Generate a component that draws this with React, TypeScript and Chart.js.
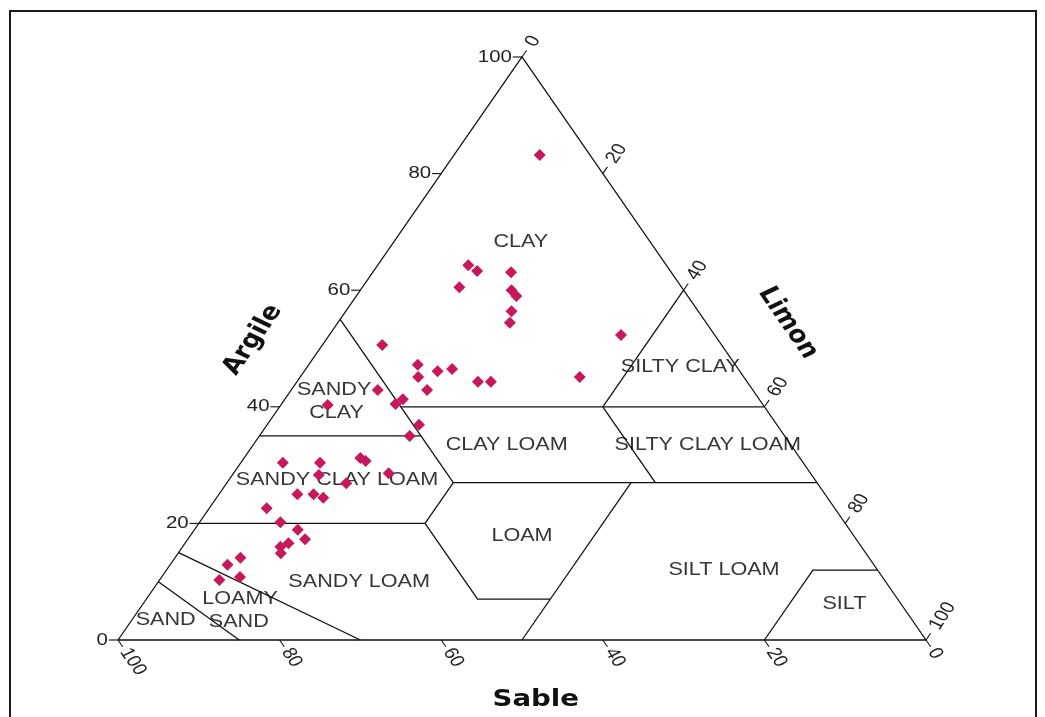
import React, { useEffect, useRef } from "react";
import { Chart, registerables } from "chart.js";

Chart.register(...registerables);

// ---- Sample data: sand % and clay % (silt = 100 - sand - clay) ----
const sampleSand = [
  6.2, 24.5, 23.9, 19.8, 27.5, 21.3, 21.2, 23.1, 24.3, 11.6, 20.3,
  42.0, 39.3, 40.3, 37.4, 35.4, 33.3, 31.7, 46.4, 40.3, 45.4, 44.1, 44.3, 46.4,
  53.9, 64.4, 59.8, 54.4, 54.0, 61.0, 58.3, 52.2, 65.3, 63.3, 62.4,
  70.3, 69.8, 68.3, 68.2, 70.6, 71.9, 72.4, 77.8, 80.0, 79.5, 82.3,
];
const sampleClay = [
  83.2, 64.3, 63.3, 63.1, 60.5, 60.0, 59.0, 56.4, 54.4, 52.3, 45.1,
  50.6, 47.2, 45.1, 46.1, 46.5, 44.3, 44.3, 42.9, 42.9, 40.5, 41.3, 36.9, 35.0,
  40.3, 30.4, 30.4, 31.2, 30.7, 28.3, 26.9, 28.6, 25.0, 25.0, 24.4,
  22.6, 20.2, 18.9, 17.3, 16.6, 16.0, 14.9, 14.1, 12.9, 10.8, 10.3,
];

// ---- USDA texture class boundaries as [sand, clay] polylines ----
const outline = [[100, 0], [0, 100], [0, 0], [100, 0]];
const sandyClayEast = [[45, 55], [45, 27]];
const clayFloor = [[45, 40], [0, 40]];
const siltyClayWest = [[0, 60], [20, 40]];
const siltyClayLoamWest = [[20, 40], [20, 27]];
const clayLoamFloor = [[45, 27], [0, 27]];
const sandyClayFloor = [[65, 35], [45, 35]];
const sandyClayLoamFloor = [[80, 20], [52, 20], [45, 27]];
const loamWest = [[52, 20], [52, 7], [43, 7]];
const siltLoamWest = [[23, 27], [50, 0]];
const loamySandEast = [[85, 15], [70, 0]];
const sandEast = [[90, 10], [85, 0]];
const siltWest = [[20, 0], [8, 12], [0, 12]];
const boundaries = [
  outline, sandyClayEast, clayFloor, siltyClayWest, siltyClayLoamWest,
  clayLoamFloor, sandyClayFloor, sandyClayLoamFloor, loamWest, siltLoamWest,
  loamySandEast, sandEast, siltWest,
];

// ---- Class labels: text with anchor [sand, clay] ----
const classNames = [
  "CLAY", "SILTY CLAY", "SANDY", "CLAY", "CLAY LOAM", "SILTY CLAY LOAM",
  "SANDY CLAY LOAM", "LOAM", "SANDY LOAM", "SILT LOAM", "SILT", "LOAMY", "SAND", "SAND",
];
const classAnchors = [
  [16.0, 68.3], [7.0, 46.8], [51.8, 42.9], [53.5, 38.9], [35.2, 33.4], [10.3, 33.4],
  [59.2, 27.4], [41.1, 17.8], [65.2, 9.9], [19.0, 12.0], [7.0, 6.2], [81.4, 7.0], [83.5, 3.1], [92.4, 3.4],
];

// ---- Axis ticks ----
const tickValues = [0, 20, 40, 60, 80, 100];
const tickLabels = ["0", "20", "40", "60", "80", "100"];
const axisTitles = ["Argile", "Limon", "Sable"];

const XS = 1.2; // horizontal stretch of the original picture

function uc(sand: number, clay: number) {
  const silt = 100 - sand - clay;
  return { x: silt + clay / 2, y: clay };
}

function drawText(
  ctx: CanvasRenderingContext2D, text: string, x: number, y: number,
  font: string, angle: number, align: CanvasTextAlign, color: string
) {
  ctx.save();
  ctx.translate(x, y);
  ctx.scale(XS, 1);
  ctx.rotate((angle * Math.PI) / 180);
  ctx.font = font;
  ctx.textAlign = align;
  ctx.textBaseline = "middle";
  ctx.fillStyle = color;
  ctx.fillText(text, 0, 0);
  ctx.restore();
}

const ternaryPlugin = {
  id: "ternary",
  beforeDatasetsDraw(chart: any) {
    const ctx = chart.ctx as CanvasRenderingContext2D;
    const xs = chart.scales.x, ys = chart.scales.y;
    classNames.forEach((name, i) => {
      const p = uc(classAnchors[i][0], classAnchors[i][1]);
      drawText(ctx, name, xs.getPixelForValue(p.x), ys.getPixelForValue(p.y),
        '18px "Liberation Sans", Arial, sans-serif', 0, "center", "#363636");
    });
  },
  afterDraw(chart: any) {
    const ctx = chart.ctx as CanvasRenderingContext2D;
    const xs = chart.scales.x, ys = chart.scales.y;
    const P = (sand: number, clay: number) => {
      const p = uc(sand, clay);
      return [xs.getPixelForValue(p.x), ys.getPixelForValue(p.y)];
    };
    const k = 1.15;
    const tickFont = '17px "Liberation Sans", Arial, sans-serif';
    ctx.save();
    ctx.strokeStyle = "#111";
    ctx.lineWidth = 1.1;
    tickValues.forEach((v, i) => {
      // clay (left edge)
      let a = P(100 - v, v), b = P(100 - v + k, v);
      ctx.beginPath(); ctx.moveTo(a[0], a[1]); ctx.lineTo(b[0], b[1]); ctx.stroke();
      let t = P(100 - v + k + 0.1, v);
      drawText(ctx, tickLabels[i], t[0], t[1], tickFont, 0, "right", "#222");
      // silt (right edge)
      a = P(0, 100 - v); b = P(-k, 100 - v + k);
      ctx.beginPath(); ctx.moveTo(a[0], a[1]); ctx.lineTo(b[0], b[1]); ctx.stroke();
      t = P(-2.0, 100 - v + 2.0);
      drawText(ctx, tickLabels[i], t[0], t[1], tickFont, -60, "left", "#222");
      // sand (bottom edge)
      a = P(v, 0); b = P(v, -k);
      ctx.beginPath(); ctx.moveTo(a[0], a[1]); ctx.lineTo(b[0], b[1]); ctx.stroke();
      t = P(v, -1.6);
      drawText(ctx, tickLabels[i], t[0], t[1], tickFont, 60, "left", "#222");
    });
    ctx.restore();

    const titleFont = 'bold 23px "DejaVu Sans", Verdana, sans-serif';
    const ta = { x: 16.7, y: 51.5 }, tl = { x: 82.9, y: 54.4 }, tb = { x: 51.7, y: -10.3 };
    drawText(ctx, axisTitles[0], xs.getPixelForValue(ta.x), ys.getPixelForValue(ta.y), titleFont, -60, "center", "#111");
    drawText(ctx, axisTitles[1], xs.getPixelForValue(tl.x), ys.getPixelForValue(tl.y), titleFont, 60, "center", "#111");
    drawText(ctx, axisTitles[2], xs.getPixelForValue(tb.x), ys.getPixelForValue(tb.y), titleFont, 0, "center", "#111");

    // frame
    ctx.save();
    ctx.strokeStyle = "#1a1a1a";
    ctx.lineWidth = 2;
    ctx.strokeRect(10, 11, 1026, 800);
    ctx.restore();
  },
};

export default function App() {
  const ref = useRef<HTMLCanvasElement | null>(null);
  useEffect(() => {
    if (!ref.current) return;
    const points = sampleSand.map((s, i) => uc(s, sampleClay[i]));
    const lineSets = boundaries.map((line) => ({
      data: line.map(([s, c]) => uc(s, c)),
      showLine: true,
      borderColor: "#111",
      borderWidth: 1.3,
      pointRadius: 0,
      fill: false,
      tension: 0,
      clip: false as any,
    }));
    const chart = new Chart(ref.current, {
      type: "scatter",
      data: {
        datasets: [
          {
            data: points,
            pointStyle: "rectRot",
            pointRadius: 6,
            pointBackgroundColor: "#C8185C",
            pointBorderColor: "#C8185C",
            pointBorderWidth: 0,
            showLine: false,
            clip: false as any,
          } as any,
          ...lineSets,
        ],
      },
      options: {
        animation: false,
        responsive: false,
        events: [],
        layout: { padding: { left: 118, right: 119, top: 57, bottom: 77 } },
        scales: {
          x: { type: "linear", min: 0, max: 100, display: false },
          y: { type: "linear", min: 0, max: 100, display: false },
        },
        plugins: { legend: { display: false }, tooltip: { enabled: false } },
      },
      plugins: [ternaryPlugin],
    });
    return () => chart.destroy();
  }, []);
  return (
    <div style={{ position: "absolute", left: 0, top: 0, width: 1045, height: 717, background: "#fff" }}>
      <canvas ref={ref} width={1045} height={717} style={{ display: "block", width: 1045, height: 717 }} />
    </div>
  );
}
